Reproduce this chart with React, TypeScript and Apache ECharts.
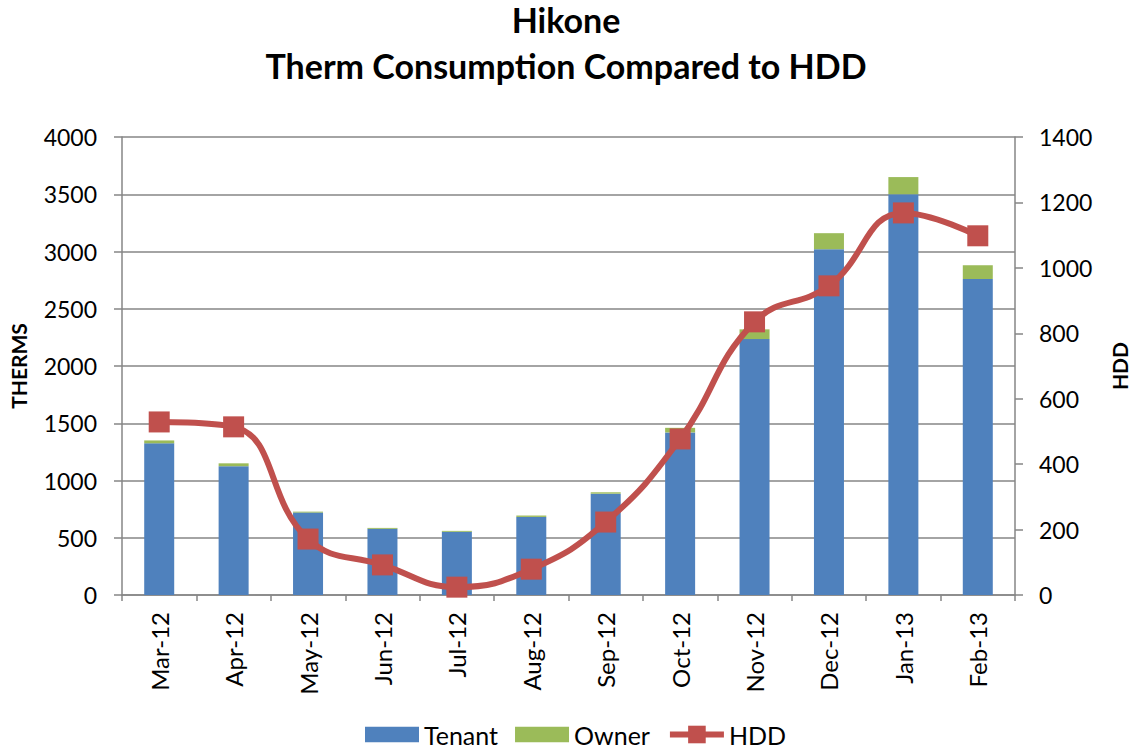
import React, { useEffect, useRef } from "react";
import * as echarts from "echarts";

const months = ["Mar-12", "Apr-12", "May-12", "Jun-12", "Jul-12", "Aug-12", "Sep-12", "Oct-12", "Nov-12", "Dec-12", "Jan-13", "Feb-13"];
const tenant = [1325, 1125, 720, 578, 552, 682, 885, 1420, 2235, 3020, 3500, 2760];
const owner = [25, 25, 8, 8, 8, 12, 12, 40, 85, 140, 150, 120];
const hdd = [529, 514, 171, 92, 24, 79, 223, 477, 835, 945, 1168, 1098];

const FONT = "Lato";
const RECT_ICON = "path://M0,0H52V15H0Z";

export default function App() {
  const ref = useRef<HTMLDivElement>(null);
  useEffect(() => {
    const chart = echarts.init(ref.current!, null, { renderer: "svg" });
    const grey = "#868686";
    const titleStyle = { fontFamily: FONT, fontWeight: "bold", fontSize: 34, lineHeight: 36, color: "#000" };
    chart.setOption({
      animation: false,
      textStyle: { fontFamily: FONT, color: "#000" },
      title: [
        { text: "Hikone", left: "center", top: 1, padding: 0, textStyle: titleStyle },
        { text: "Therm Consumption Compared to HDD", left: "center", top: 47, padding: 0, textStyle: titleStyle },
      ],
      legend: {
        bottom: -2,
        left: 360,
        itemWidth: 54,
        itemHeight: 22,
        itemGap: 17,
        symbolKeepAspect: true,
        textStyle: { fontFamily: FONT, fontSize: 25, color: "#000" },
        data: [
          { name: "Tenant", icon: RECT_ICON },
          { name: "Owner", icon: RECT_ICON },
          { name: "HDD", lineStyle: { width: 6, color: "#C0504D" } },
        ],
      },
      grid: { left: 122, right: 117, top: 137, bottom: 155, outerBoundsMode: "none", containLabel: false },
      xAxis: {
        type: "category",
        data: months,
        axisLine: { lineStyle: { color: grey, width: 1.5 } },
        axisTick: { show: true, interval: 0, length: 6, lineStyle: { color: grey, width: 1.5 } },
        axisLabel: { rotate: 90, fontSize: 24, color: "#000", fontFamily: FONT, margin: 17, interval: 0 },
      },
      yAxis: [
        {
          type: "value",
          min: 0,
          max: 4000,
          interval: 500,
          name: "THERMS",
          nameLocation: "middle",
          nameGap: 93,
          nameTextStyle: { fontWeight: "bold", fontSize: 21, color: "#000", fontFamily: FONT },
          axisLine: { show: true, lineStyle: { color: grey, width: 1.5 } },
          axisTick: { show: true, length: 8, lineStyle: { color: grey, width: 1.5 } },
          axisLabel: { fontSize: 23, color: "#000", fontFamily: FONT, margin: 25, formatter: (v: number) => String(v) },
          splitLine: { lineStyle: { color: grey, width: 1.5 } },
        },
        {
          type: "value",
          min: 0,
          max: 1400,
          interval: 200,
          name: "HDD",
          nameLocation: "middle",
          nameGap: 94,
          nameRotate: 90,
          nameTextStyle: { fontWeight: "bold", fontSize: 21, color: "#000", fontFamily: FONT },
          axisLine: { show: true, lineStyle: { color: grey, width: 1.5 } },
          axisTick: { show: true, length: 8, lineStyle: { color: grey, width: 1.5 } },
          axisLabel: { fontSize: 23, color: "#000", fontFamily: FONT, margin: 24, formatter: (v: number) => String(v) },
          splitLine: { show: false },
        },
      ],
      series: [
        {
          name: "Tenant",
          type: "bar",
          stack: "t",
          barWidth: 30,
          data: tenant,
          itemStyle: { color: "#4F81BD" },
        },
        {
          name: "Owner",
          type: "bar",
          stack: "t",
          barWidth: 30,
          data: owner,
          itemStyle: { color: "#9BBB59" },
        },
        {
          name: "HDD",
          type: "line",
          yAxisIndex: 1,
          smooth: 0.45,
          data: hdd,
          symbol: "rect",
          symbolSize: 21,
          lineStyle: { color: "#C0504D", width: 6 },
          itemStyle: { color: "#C0504D" },
        },
      ],
    });
    return () => chart.dispose();
  }, []);
  return <div ref={ref} style={{ width: 1132, height: 750, position: "absolute", left: 0, top: 0 }} />;
}
